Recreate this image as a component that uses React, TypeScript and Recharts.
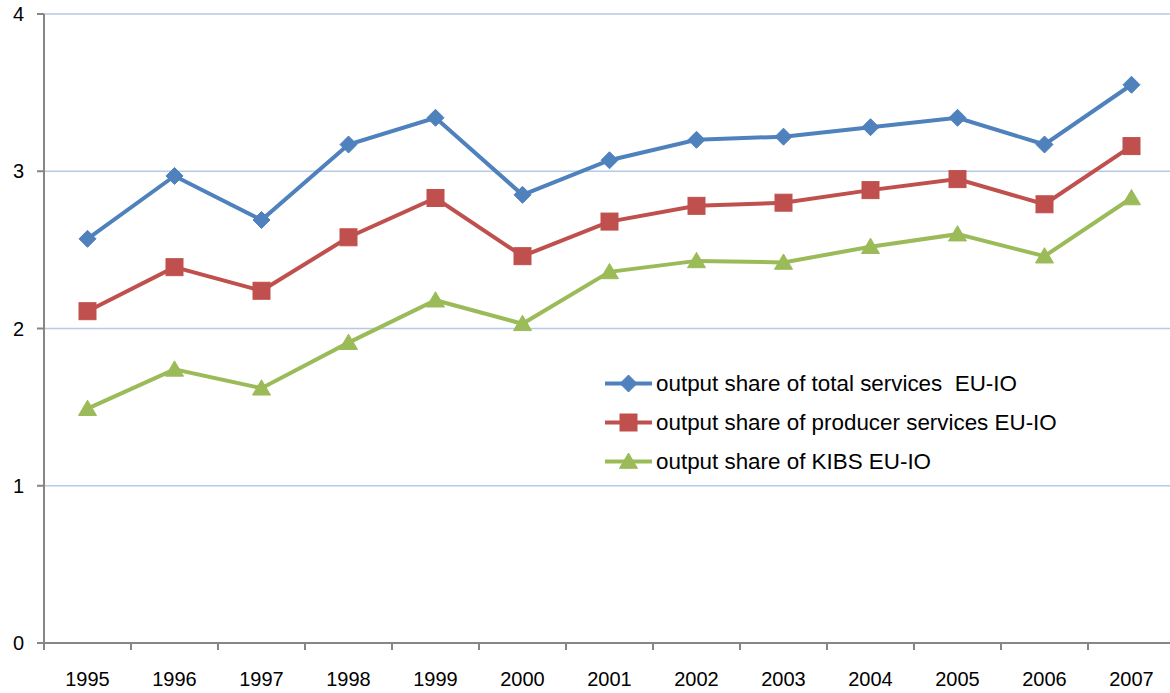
import React from 'react';
import { LineChart, Line, XAxis, YAxis, CartesianGrid, Legend } from 'recharts';

const years = ['1995', '1996', '1997', '1998', '1999', '2000', '2001', '2002', '2003', '2004', '2005', '2006', '2007'];
const totalServices = [2.57, 2.97, 2.69, 3.17, 3.34, 2.85, 3.07, 3.2, 3.22, 3.28, 3.34, 3.17, 3.55];
const producerServices = [2.11, 2.39, 2.24, 2.58, 2.83, 2.46, 2.68, 2.78, 2.8, 2.88, 2.95, 2.79, 3.16];
const kibs = [1.49, 1.74, 1.62, 1.91, 2.18, 2.03, 2.36, 2.43, 2.42, 2.52, 2.6, 2.46, 2.83];
const yTicks = [0, 1, 2, 3, 4];

const seriesNames = {
  total: 'output share of total services  EU-IO',
  producer: 'output share of producer services EU-IO',
  kibs: 'output share of KIBS EU-IO',
};
const legendOrder = ['total', 'producer', 'kibs'];

const BLUE = '#4F81BD';
const RED = '#C0504D';
const GREEN = '#9BBB59';
const AXIS = '#868686';
const GRID = '#B7C9E6';
const FONT = '"Liberation Sans", Arial, sans-serif';

const data = years.map((year, i) => ({
  year,
  total: totalServices[i],
  producer: producerServices[i],
  kibs: kibs[i],
}));

type Kind = 'diamond' | 'square' | 'triangle';

const markerShape = (kind: Kind, cx: number, cy: number, color: string, key?: string) => {
  if (kind === 'diamond') {
    const r = 8.5;
    return <polygon key={key} points={`${cx},${cy - r} ${cx + r},${cy} ${cx},${cy + r} ${cx - r},${cy}`} fill={color} stroke={color} strokeWidth={1} />;
  }
  if (kind === 'square') {
    const s = 8.5;
    return <rect key={key} x={cx - s} y={cy - s} width={2 * s} height={2 * s} fill={color} stroke={color} strokeWidth={1} />;
  }
  const w = 9, h = 8.5;
  return <polygon key={key} points={`${cx},${cy - h} ${cx + w},${cy + h * 0.8} ${cx - w},${cy + h * 0.8}`} fill={color} stroke={color} strokeWidth={1} />;
};

const makeDot = (kind: Kind, color: string) => (props: any) => {
  const { cx, cy, index } = props;
  if (cx == null || cy == null) return <g key={`${kind}-${index}`} />;
  return markerShape(kind, cx, cy, color, `${kind}-${index}`);
};

const shapeByKey: Record<string, Kind> = { total: 'diamond', producer: 'square', kibs: 'triangle' };

const renderLegend = (props: any) => {
  const payload = [...(props.payload || [])].sort(
    (a: any, b: any) => legendOrder.indexOf(a.dataKey) - legendOrder.indexOf(b.dataKey)
  );
  return (
    <div style={{ fontFamily: FONT, fontSize: 22.4, color: '#000' }}>
      {payload.map((entry: any) => {
        const key = entry.dataKey as string;
        return (
          <div key={key} style={{ display: 'flex', alignItems: 'center', height: 39 }}>
            <svg width={51} height={39} style={{ display: 'block' }}>
              <line x1={0} y1={19.5} x2={47} y2={19.5} stroke={entry.color} strokeWidth={4} />
              {markerShape(shapeByKey[key], 23.5, 19.5, entry.color)}
            </svg>
            <span style={{ whiteSpace: 'pre' }}>{entry.value}</span>
          </div>
        );
      })}
    </div>
  );
};

const XTick = (props: any) => {
  const { x, y, payload } = props;
  const half = payload && payload.offset ? payload.offset : 0;
  return (
    <g>
      <line x1={x - half} y1={y} x2={x - half} y2={y + 7} stroke={AXIS} strokeWidth={2} />
      <text x={x} y={y + 43} textAnchor="middle" fill="#000" fontSize={20} fontFamily={FONT}>
        {payload.value}
      </text>
    </g>
  );
};

export default function App() {
  return (
    <div style={{ position: 'absolute', left: 0, top: 0, width: 1170, height: 693, overflow: 'hidden', background: '#fff' }}>
      <LineChart width={1180} height={693} data={data} margin={{ top: 14, right: 5, bottom: 0, left: 0 }}>
        <CartesianGrid vertical={false} stroke={GRID} strokeWidth={1.5} />
        <XAxis
          dataKey="year"
          scale="band"
          height={50}
          axisLine={{ stroke: AXIS, strokeWidth: 2 }}
          tickLine={false}
          tickSize={0}
          tickMargin={0}
          interval={0}
          tick={<XTick />}
        />
        <YAxis
          width={44}
          domain={[0, 4]}
          ticks={yTicks}
          axisLine={{ stroke: AXIS, strokeWidth: 2 }}
          tickLine={{ stroke: AXIS, strokeWidth: 2 }}
          tickSize={7}
          tickMargin={13}
          tick={{ fill: '#000', fontSize: 20, fontFamily: FONT }}
        />
        <Legend
          layout="vertical"
          verticalAlign="middle"
          align="center"
          content={renderLegend}
          wrapperStyle={{ left: 605, top: 364, width: 560 }}
        />
        <Line
          dataKey="total"
          name={seriesNames.total}
          stroke={BLUE}
          strokeWidth={4}
          dot={makeDot('diamond', BLUE)}
          activeDot={false}
          isAnimationActive={false}
        />
        <Line
          dataKey="producer"
          name={seriesNames.producer}
          stroke={RED}
          strokeWidth={4}
          dot={makeDot('square', RED)}
          activeDot={false}
          isAnimationActive={false}
        />
        <Line
          dataKey="kibs"
          name={seriesNames.kibs}
          stroke={GREEN}
          strokeWidth={4}
          dot={makeDot('triangle', GREEN)}
          activeDot={false}
          isAnimationActive={false}
        />
      </LineChart>
    </div>
  );
}
